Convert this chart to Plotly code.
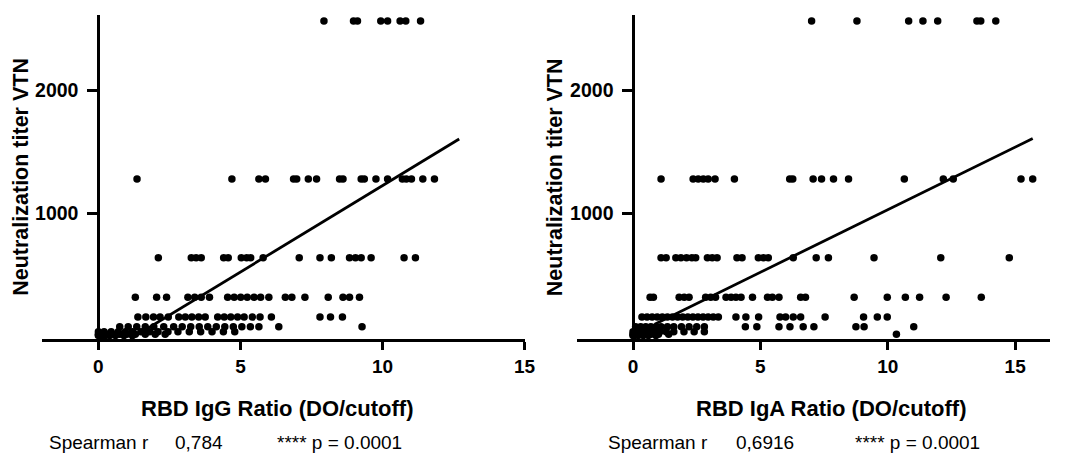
import plotly.graph_objects as go

W, H = 1065, 456

# ---------------- data ----------------
titer_levels = [2560, 1280, 640, 320, 160, 80, 40, 20, 10]

igg_x = {
    2560: [7.94, 8.98, 9.12, 9.94, 10.18, 10.62, 10.82, 11.34],
    1280: [1.36, 4.70, 5.65, 5.88, 6.87, 6.98, 7.39, 7.68, 8.49, 8.61, 9.25, 9.36,
           9.77, 10.18, 10.70, 10.84, 11.02, 11.42, 11.83],
    640: [2.11, 3.27, 3.44, 3.62, 4.41, 4.57, 5.03, 5.22, 5.36, 5.80, 7.07, 7.80,
          8.20, 8.84, 9.05, 9.25, 9.60, 10.76, 11.16],
    320: [1.30, 2.05, 2.40, 3.15, 3.39, 3.62, 3.91, 4.55, 4.78, 5.01, 5.24, 5.48,
          5.71, 6.00, 6.58, 6.81, 7.27, 8.09, 8.61, 8.84, 9.19],
    160: [1.39, 1.67, 1.94, 2.17, 2.46, 2.83, 3.06, 3.29, 3.53, 3.76, 4.20, 4.43,
          4.66, 4.90, 5.13, 5.42, 5.69, 6.09, 7.80, 8.17, 8.59],
    80: [0.75, 1.05, 1.35, 1.65, 1.95, 2.30, 2.65, 2.95, 3.25, 3.55, 3.85, 4.15,
         4.45, 4.75, 5.05, 5.35, 5.65, 6.35, 9.28],
    40: [0.0, 0.20, 0.45, 0.70, 0.95, 1.20, 1.50, 1.80, 2.10, 2.45, 2.80, 3.20,
         3.60, 4.00, 4.40, 4.80],
    20: [0.0, 0.10, 0.30, 0.50, 0.75, 1.00, 1.30, 1.65, 2.00, 2.35],
    10: [0.0, 0.05, 0.15, 0.25, 0.40, 0.60, 0.90, 1.20],
}

iga_x = {
    2560: [7.01, 8.79, 10.82, 11.38, 11.96, 13.50, 13.65, 14.24],
    1280: [1.10, 2.36, 2.56, 2.76, 2.95, 3.22, 3.98, 6.15, 6.27, 7.07, 7.40, 7.87,
           8.46, 10.65, 12.18, 12.57, 15.23, 15.69],
    640: [1.10, 1.30, 1.68, 1.88, 2.10, 2.31, 2.46, 2.92, 3.11, 3.30, 4.08, 4.28,
          4.92, 5.12, 5.31, 6.29, 7.19, 7.67, 9.46, 12.08, 14.77],
    320: [0.67, 0.80, 1.81, 2.01, 2.20, 2.85, 3.05, 3.24, 3.65, 3.85, 4.04, 4.24,
          4.69, 5.28, 5.47, 5.73, 6.58, 6.77, 8.68, 9.98, 10.69, 11.25, 12.29, 13.67],
    160: [0.35, 0.55, 0.75, 0.95, 1.15, 1.35, 1.55, 1.75, 1.95, 2.15, 2.35, 2.55,
          2.75, 2.95, 3.15, 3.35, 4.04, 4.43, 4.93, 5.77, 5.99, 6.29, 6.58, 7.54,
          9.05, 9.59, 9.98],
    80: [0.10, 0.30, 0.50, 0.70, 0.90, 1.10, 1.35, 1.60, 1.90, 2.20, 2.50, 2.80,
         4.41, 4.86, 5.73, 6.16, 6.68, 7.10, 8.75, 9.07, 11.02],
    40: [0.0, 0.15, 0.35, 0.55, 0.80, 1.05, 1.30, 1.60, 2.00, 2.40, 2.80],
    20: [0.0, 0.10, 0.25, 0.45, 0.70, 1.00, 1.40, 10.34],
    10: [0.0, 0.05, 0.20, 0.40, 0.60, 0.90],
}

# linear fits: slope, intercept, x-extent
igg_fit = {"slope": 140.0, "intercept": -175.0, "x": [1.12, 12.70]}
iga_fit = {"slope": 101.5, "intercept": 15.0, "x": [0.85, 15.69]}

x_ticks = [0, 5, 10, 15]
y_ticks = [1000, 2000]
y_title = "Neutralization titer VTN"
x_titles = ["RBD IgG Ratio (DO/cutoff)", "RBD IgA Ratio (DO/cutoff)"]
spearman_r = ["0,784", "0,6916"]
p_text = "**** p = 0.0001"

# ---------------- figure ----------------
FONT = "Liberation Sans, Arial, Helvetica, sans-serif"


def flat(d):
    xs, ys = [], []
    for lvl in titer_levels:
        for v in d[lvl]:
            xs.append(v)
            ys.append(lvl)
    return xs, ys


fig = go.Figure()
for i, (d, fit) in enumerate([(igg_x, igg_fit), (iga_x, iga_fit)]):
    xa = "x" if i == 0 else "x2"
    ya = "y" if i == 0 else "y2"
    xs, ys = flat(d)
    fig.add_trace(go.Scatter(x=xs, y=ys, mode="markers", xaxis=xa, yaxis=ya,
                             marker=dict(size=7.5, color="black"),
                             cliponaxis=False, showlegend=False))
    fx = fit["x"]
    fy = [fit["slope"] * v + fit["intercept"] for v in fx]
    fig.add_trace(go.Scatter(x=fx, y=fy, mode="lines", xaxis=xa, yaxis=ya,
                             line=dict(color="black", width=2.8),
                             cliponaxis=False, showlegend=False))

tickfont = dict(family=FONT, size=19, color="black", weight="bold")
common_x = dict(showgrid=False, zeroline=False, showline=True, linewidth=3,
                linecolor="black", ticks="outside", ticklen=8, tickwidth=2.5,
                tickcolor="black", tickvals=x_ticks, tickfont=tickfont)
common_y = dict(showgrid=False, zeroline=False, showline=True, linewidth=3,
                linecolor="black", ticks="outside", ticklen=10, tickwidth=2.5,
                tickcolor="black", tickvals=y_ticks,
                tickfont=dict(family=FONT, size=19.5, color="black", weight="bold"),
                ticklabelstandoff=5,
                range=[-21, 2609], domain=[1 - 339.3 / H, 1 - 15 / H],
                anchor="free")

fig.update_layout(
    width=W, height=H,
    margin=dict(l=0, r=0, t=0, b=0),
    paper_bgcolor="white", plot_bgcolor="white",
    xaxis=dict(domain=[42 / W, 530 / W], range=[-2, 15], anchor="y", **common_x),
    xaxis2=dict(domain=[583 / W, 1061 / W], range=[-2.2, 16.37], anchor="y2", **common_x),
    yaxis=dict(position=99.4 / W, **common_y),
    yaxis2=dict(position=640 / W, **common_y),
)

ann = []
for xc in [21, 561]:
    ann.append(dict(text=y_title, x=xc / W, y=1 - 177 / H, xref="paper", yref="paper",
                    textangle=-90, showarrow=False, xanchor="center", yanchor="middle",
                    font=dict(family=FONT, size=21.5, color="black", weight="bold")))
for xc, t in zip([280, 840], x_titles):
    ann.append(dict(text=t, x=xc / W, y=1 - 408 / H, xref="paper", yref="paper",
                    showarrow=False, xanchor="center", yanchor="middle",
                    font=dict(family=FONT, size=22, color="black", weight="bold")))
stat_font = dict(family=FONT, size=19, color="black")
for (x0, x1, x2), r in zip([(47, 175, 278), (612, 742, 862)], spearman_r):
    for xp, t in [(x0, "Spearman r"), (x1, r), (x2, p_text)]:
        ann.append(dict(text=t, x=xp / W, y=1 - 442 / H, xref="paper", yref="paper",
                        showarrow=False, xanchor="left", yanchor="middle",
                        font=stat_font))
fig.update_layout(annotations=ann)

post = ("document.documentElement.style.margin='0px';"
        "document.documentElement.style.overflow='hidden';"
        "document.body.style.margin='0px';"
        "document.body.style.padding='0px';"
        "document.body.style.overflow='hidden';")
fig.write_html("out.html", config={"displayModeBar": False}, post_script=post)
